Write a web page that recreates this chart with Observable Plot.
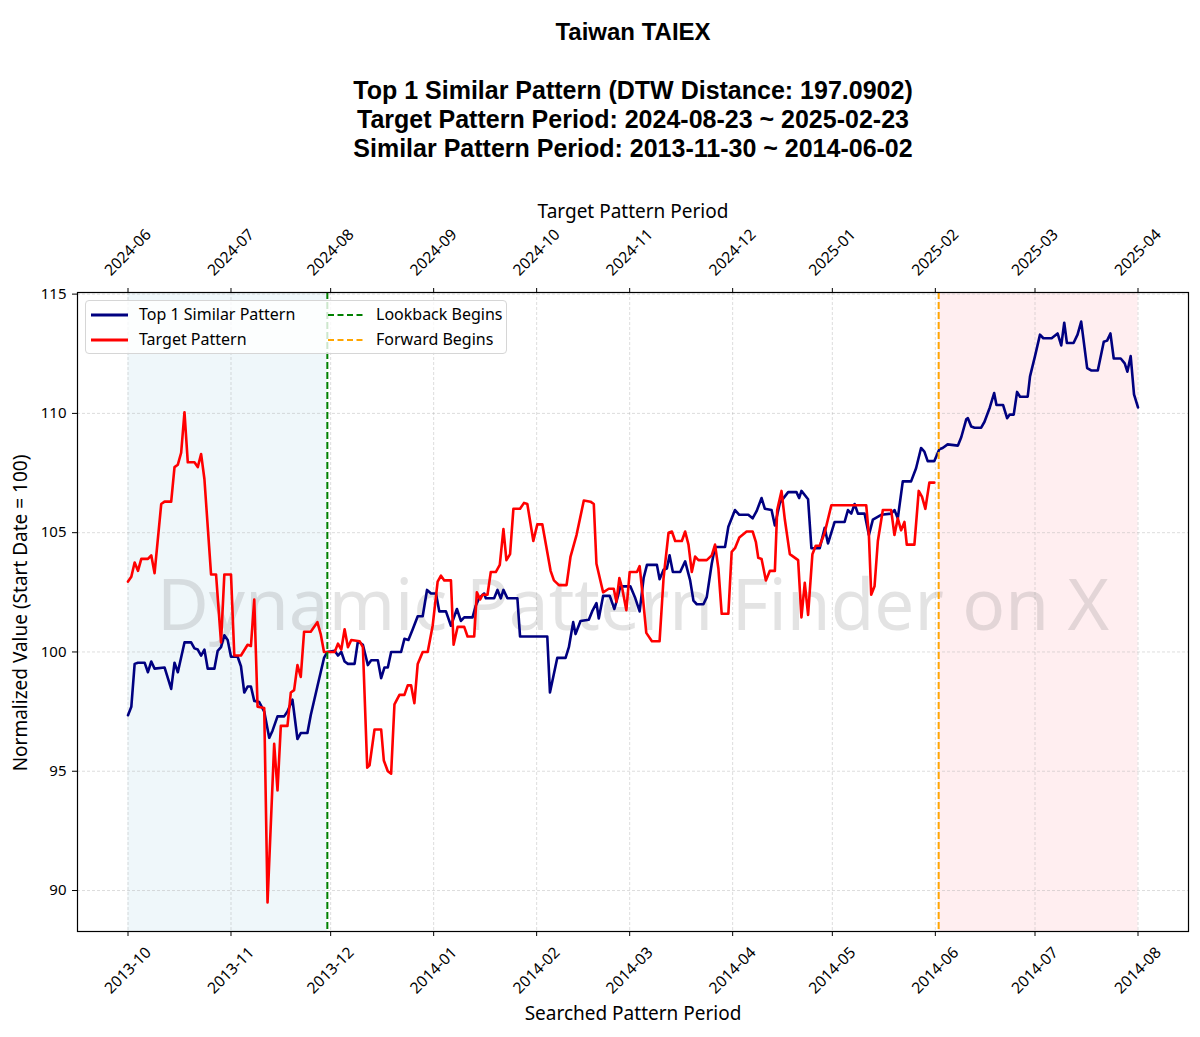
<!DOCTYPE html>
<html><head><meta charset="utf-8">
<script src="https://cdn.jsdelivr.net/npm/d3@7"></script>
<script src="https://cdn.jsdelivr.net/npm/@observablehq/plot@0.6"></script>
<style>
body{margin:0;background:#fff;font-family:"Noto Sans",sans-serif}
#wrap{position:relative;width:1200px;height:1037px}
#legend{position:absolute;left:85px;top:300px;width:420px;height:52px;border:1px solid #d6d6d6;border-radius:4px;background:rgba(255,255,255,0.8);font-size:16px;color:#000}
.item{position:absolute;height:20px;line-height:20px;white-space:nowrap}
.item svg{position:absolute;left:0;top:3px}
.item span{position:absolute;left:48px;top:-1px}
</style></head>
<body>
<div id="wrap"><div id="chart"></div>
<div id="legend"></div>
</div>
<script>
// ---- data (day offsets from 2013-10-01, normalized values) ----
const blueDay = [0,1,2,3,5,6,7,8,11,13,14,15,17,19,20,21,22,23,24,26,27,28,29,30,31,33,34,35,36,37,38,39.5,41,42.5,43.5,45,47,48,49.5,51,52,54,55,57,59,60,
62.2,63.2,64.2,65.2,66.2,68.2,69.2,70.7,72.2,73.2,75.2,76.2,77.2,78.2,79.2,82.2,83.2,84.4,85.7,87.2,88.7,90,91.2,92.7,93.7,95.7,97.2,99,100.2,101.2,103.7,104.7,105.7,107.2,107.7,110.2,111.2,112.2,113,114.2,117.2,118,126.2,127,129.2,131.7,132.7,134,134.7,136.2,138.7,139.7,141,141.7,143,145,146.4,147.2,
148.2,151.2,152.7,154,155.2,156.2,159.2,160,161.2,162.2,163,164,166.2,167.7,169.2,170.2,171.2,173.2,174.2,175.7,176.7,179.7,180.7,182.7,184,186.7,188,189.2,190.7,191.7,193.7,194.7,196.2,198.7,201.2,202,202.7,204.7,205.7,208.2,209.7,210.7,212.7,215.7,216.7,217.7,218.7,219.7,221.7,223,224.2,226.7,229.7,230.7,231.7,233.2,235.7,237.2,238.7,239.7,240.7,242.7,
244.2,245.2,246.7,249.8,250.8,252.3,252.8,253.8,254.8,256.8,257.8,259.4,260.7,261.4,263.4,264.6,265.4,266.6,267.6,268.5,270.8,271.5,273,274.5,275.5,278,279.8,280.9,281.8,282.6,284.6,285.8,286.9,288.7,289.9,291.9,293.7,294.7,295.7,296.7,298.8,300,300.8,301.8,302.8,304];
const blueVal = [97.35,97.7,99.5,99.55,99.55,99.15,99.6,99.3,99.35,98.45,99.55,99.15,100.4,100.4,100.15,100.1,99.85,100.1,99.3,99.3,100.05,100.2,100.7,100.5,99.8,99.8,99.4,98.3,98.55,98.55,97.95,97.9,97.5,96.4,96.7,97.3,97.3,97.5,98.0,96.35,96.6,96.6,97.35,98.55,99.75,100,
100.05,99.85,100,99.6,99.5,99.5,100.45,100.3,99.45,99.65,99.65,98.9,99.35,99.35,100,100,100.55,100.5,100.95,101.5,101.5,102.6,102.45,102.45,101.7,101.7,101.1,101.8,101.3,101.45,101.45,101.95,102.25,102.45,102.25,102.25,102.6,102.25,102.6,102.25,102.25,100.65,100.65,98.3,99.75,99.75,100.2,101.25,100.75,101.3,101.35,101.7,102.05,101.4,102.35,102.35,101.8,102.2,
102.75,102.75,102.25,101.7,103.1,103.65,103.65,103.05,103.45,103.5,104.05,103.35,103.35,103.8,103.0,102.15,102.0,102.0,102.3,103.7,104.4,104.4,105.25,105.95,105.75,105.75,105.6,105.9,106.45,106.0,105.95,105.3,106.25,106.7,106.7,106.45,106.75,106.4,104.35,104.35,105.2,104.55,105.45,105.45,105.95,105.8,106.2,105.8,105.8,104.9,105.55,105.75,105.8,105.95,105.6,107.15,107.15,107.7,108.55,108.4,108.0,108.0,
108.5,108.55,108.7,108.65,109.0,109.75,109.8,109.45,109.4,109.4,109.65,110.25,110.85,110.35,110.35,109.8,109.95,109.95,110.9,110.7,110.7,111.55,112.4,113.3,113.15,113.15,113.35,112.85,113.8,112.95,112.95,113.3,113.85,111.9,111.8,111.8,113.0,113.05,113.35,112.3,112.3,112.1,111.75,112.4,110.8,110.25];

const redDay = [0,1,2,3,4,6,7,8,10,11,13,14,15,16,17,18,20,21,22,23,25,26.5,28,29,31,32,34,36,37,38,39,41,42,44,45,46,48,49,50,51,52,53,55,57,58,59,60,
62.2,63.2,64.2,65.2,66.2,67.2,69.7,70.7,72,72.7,74.2,76.2,77,78.2,79.2,80.2,81.7,83.2,84.2,85.2,86.2,87.2,88.7,90.2,91.7,93.2,94.2,95.2,97.2,98,99.2,101.2,102.2,104.2,105,106,106.7,108.2,109.2,110.7,111.9,113,113.9,115,116,118,119.2,120.2,122,123.2,124.7,127.2,128.2,129.7,132,133.2,135,137.2,139.2,140.2,141,143,
144.7,146.2,147,147.9,148.7,150,151,153.2,154,155,156,157.7,160,161.2,162.7,163.7,164.7,166.7,167.7,168.7,169.7,170.7,171.7,174.2,175.7,176.7,177.7,178.7,180.7,181.7,182.7,184,186.2,188,189,189.7,190.7,192,193.2,194.7,195.4,196.7,197.7,199.2,201.7,202.7,203.7,204.7,206,207,208.2,209.7,211.7,222.2,223,223.7,224.7,225.7,227.2,229.7,230.7,231.7,232.7,233.7,234.4,236.7,238,239,240,241.2,242.7];
const redVal = [102.95,103.15,103.75,103.4,103.9,103.9,104.05,103.3,106.2,106.3,106.3,107.75,107.85,108.35,110.05,107.95,107.95,107.75,108.3,107.25,103.25,103.25,100.4,103.25,103.25,99.85,99.85,100.3,100.25,102.2,97.7,97.65,89.5,96.15,94.2,96.9,96.9,98.3,98.4,99.45,98.95,100.85,100.85,101.25,100.75,100.0,100,
100,100.35,100.1,100.95,100.2,100.5,100.45,100.2,95.15,95.25,96.75,96.75,95.45,95.0,94.9,97.8,98.2,98.2,98.6,98.6,97.85,99.5,100,100,101.1,102.95,103.2,103.0,103.0,100.3,101.05,101.05,100.65,100.65,102.5,102.2,102.4,102.4,103.35,103.35,103.65,105.15,103.85,104.1,106.0,106.0,106.25,106.2,104.65,105.35,105.35,103.4,103.0,102.8,102.8,104.0,104.9,106.35,106.3,106.2,103.7,102.5,
102.65,102.65,102.1,103.1,102.7,101.75,103.35,103.35,103.6,102.25,100.8,100.45,100.45,103.1,105.0,105.05,104.65,104.65,105.05,104.5,103.35,104.0,103.85,103.85,104.05,104.5,103.5,101.6,101.6,104.2,104.35,104.8,105.05,105.05,104.6,103.95,103.9,103.0,103.4,103.4,105.95,106.75,105.55,104.1,103.85,101.45,102.9,101.55,104.1,104.45,104.45,105.0,106.15,106.15,104.9,102.4,102.75,104.65,105.95,105.95,104.9,105.6,105.1,105.45,104.5,104.5,106.75,106.5,106.0,107.1,107.1];

const bottomLabels = ["2013-10","2013-11","2013-12","2014-01","2014-02","2014-03","2014-04","2014-05","2014-06","2014-07","2014-08"];
const topLabels = ["2024-06","2024-07","2024-08","2024-09","2024-10","2024-11","2024-12","2025-01","2025-02","2025-03","2025-04"];
const yTicks = [90,95,100,105,110,115];
const seriesNames = ["Top 1 Similar Pattern","Target Pattern"];
const markerNames = ["Lookback Begins","Forward Begins"];
const startDate = "2013-10-01", lookbackDate = "2013-11-30", forwardDate = "2014-06-02", endDate = "2014-08-01";
const titleLines = ["Taiwan TAIEX","Top 1 Similar Pattern (DTW Distance: 197.0902)","Target Pattern Period: 2024-08-23 ~ 2025-02-23","Similar Pattern Period: 2013-11-30 ~ 2014-06-02"];

// ---- build ----
const DAY = 864e5;
const t0 = new Date(startDate + "T00:00:00Z").getTime();
const toDate = d => new Date(t0 + d * DAY);
const blue = blueDay.map((d,i) => ({date: toDate(d), value: blueVal[i]}));
const red = redDay.map((d,i) => ({date: toDate(d), value: redVal[i]}));
const tickDates = bottomLabels.map(s => new Date(s + "-01T00:00:00Z"));
const dStart = new Date(startDate + "T00:00:00Z"), dLook = new Date(lookbackDate + "T00:00:00Z"),
      dFwd = new Date(forwardDate + "T00:00:00Z"), dEnd = new Date(endDate + "T00:00:00Z");
const span = dEnd - dStart;
const xDomain = [new Date(+dStart - 0.05 * span), new Date(+dEnd + 0.05 * span)];
const allV = blueVal.concat(redVal);
const vmin = d3.min(allV), vmax = d3.max(allV), vr = vmax - vmin;
const yDomain = [vmin - 0.05 * vr, vmax + 0.05 * vr];

const font = "Noto Sans";
const titleFont = "Liberation Sans";
const chart = Plot.plot({
  width: 1200, height: 1037,
  marginTop: 292, marginBottom: 106, marginLeft: 77, marginRight: 12,
  style: {fontFamily: font, fontSize: "15px", background: "white", color: "black"},
  x: {type: "utc", domain: xDomain, label: null},
  y: {domain: yDomain, label: null},
  marks: [
    Plot.rect([{a: dStart, b: dLook}], {x1: "a", x2: "b", fill: "lightblue", fillOpacity: 0.2}),
    Plot.rect([{a: dFwd, b: dEnd}], {x1: "a", x2: "b", fill: "#ffc8cc", fillOpacity: 0.3}),
    Plot.gridX(tickDates, {stroke: "#b0b0b0", strokeOpacity: 0.55, strokeWidth: 0.8, strokeDasharray: "3,2"}),
    Plot.gridY(yTicks, {stroke: "#b0b0b0", strokeOpacity: 0.55, strokeWidth: 0.8, strokeDasharray: "3,2"}),
    Plot.text(["Dynamic Pattern Finder on X"], {frameAnchor: "middle", dy: -5, fontSize: 71, fill: "gray", fillOpacity: 0.22, fontFamily: font}),
    Plot.line(blue, {x: "date", y: "value", stroke: "navy", strokeWidth: 2.6}),
    Plot.line(red, {x: "date", y: "value", stroke: "red", strokeWidth: 2.6}),
    Plot.ruleX([dLook], {stroke: "green", strokeWidth: 2, strokeDasharray: "7,3"}),
    Plot.ruleX([dFwd], {stroke: "orange", strokeWidth: 2, strokeDasharray: "7,3"}),
    Plot.frame({stroke: "black", strokeWidth: 1.2}),
    Plot.axisX(tickDates, {anchor: "bottom", tickSize: 5, tickFormat: () => "", label: null}),
    Plot.axisX(tickDates, {anchor: "top", tickSize: 5, tickFormat: () => "", label: null}),
    Plot.axisY(yTicks, {anchor: "left", tickSize: 5, tickPadding: 6, fontSize: 15, label: null}),
    Plot.text(tickDates, {x: d => d, text: (d,i) => bottomLabels[i], frameAnchor: "bottom", dy: 39, rotate: -45, textAnchor: "middle", lineAnchor: "middle", fontSize: 15.5}),
    Plot.text(tickDates, {x: d => d, text: (d,i) => topLabels[i], frameAnchor: "top", dy: -40, rotate: -45, textAnchor: "middle", lineAnchor: "middle", fontSize: 15.5}),
    Plot.text(["Searched Pattern Period"], {frameAnchor: "bottom", dy: 82, fontSize: 19, textAnchor: "middle", lineAnchor: "middle"}),
    Plot.text(["Target Pattern Period"], {frameAnchor: "top", dy: -81, fontSize: 19, textAnchor: "middle", lineAnchor: "middle"}),
    Plot.text(["Normalized Value (Start Date = 100)"], {frameAnchor: "left", dx: -57, dy: 1, rotate: -90, fontSize: 19, textAnchor: "middle", lineAnchor: "middle"}),
    Plot.text([titleLines[0]], {frameAnchor: "top", dy: -260, fontSize: 24, fontWeight: "bold", fontFamily: titleFont, textAnchor: "middle", lineAnchor: "middle"}),
    Plot.text([titleLines[1]], {frameAnchor: "top", dy: -202, fontSize: 25, fontWeight: "bold", fontFamily: titleFont, textAnchor: "middle", lineAnchor: "middle"}),
    Plot.text([titleLines[2]], {frameAnchor: "top", dy: -173, fontSize: 25, fontWeight: "bold", fontFamily: titleFont, textAnchor: "middle", lineAnchor: "middle"}),
    Plot.text([titleLines[3]], {frameAnchor: "top", dy: -144, fontSize: 25, fontWeight: "bold", fontFamily: titleFont, textAnchor: "middle", lineAnchor: "middle"})
  ]
});
document.getElementById("chart").appendChild(chart);

// legend
const legend = document.getElementById("legend");
const items = [
  {name: seriesNames[0], color: "navy", dash: null, left: 5, top: 4},
  {name: seriesNames[1], color: "red", dash: null, left: 5, top: 29},
  {name: markerNames[0], color: "green", dash: "6,3.5", left: 242, top: 4},
  {name: markerNames[1], color: "orange", dash: "6,3.5", left: 242, top: 29}
];
for (const it of items) {
  const div = document.createElement("div");
  div.className = "item";
  div.style.left = it.left + "px";
  div.style.top = it.top + "px";
  div.innerHTML = `<svg width="40" height="14"><line x1="0" y1="7" x2="37" y2="7" stroke="${it.color}" stroke-width="${it.dash ? 2 : 2.8}" ${it.dash ? `stroke-dasharray="${it.dash}"` : ""}/></svg><span>${it.name}</span>`;
  legend.appendChild(div);
}
</script>
</body></html>
